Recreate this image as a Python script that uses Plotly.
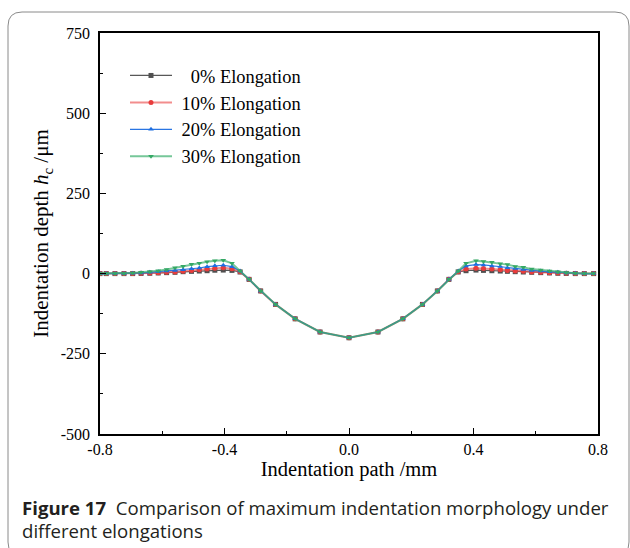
import plotly.graph_objects as go

# ---- data ----
x_path = [-0.8, -0.78, -0.752, -0.723, -0.695, -0.668, -0.640, -0.613, -0.586, -0.559,
          -0.533, -0.506, -0.481, -0.456, -0.431, -0.404, -0.376, -0.35,
          -0.321, -0.284, -0.236, -0.173, -0.093, 0.0, 0.093, 0.173, 0.236, 0.284, 0.321,
          0.351, 0.376, 0.408, 0.432, 0.459, 0.486, 0.509, 0.534, 0.560, 0.587, 0.616,
          0.644, 0.671, 0.698, 0.727, 0.756, 0.786]

core = [-18, -54, -96, -141, -182, -200, -182, -141, -96, -54, -18]

depth_0_left = [0, 0, 0, 0, 0, 0.5, 1, 2, 3, 4, 6, 7, 8, 9, 10.5, 11, 10, 5]
depth_0_right = [5, 9, 11, 10, 9, 8, 7, 6, 5, 4, 3, 2, 1, 0.5, 0, 0, 0]
depth_10_left = [0, 0, 0, 0, 0.5, 1, 2, 3, 4, 5, 7, 10, 12, 14, 16.5, 18, 15, 6]
depth_10_right = [6, 14, 17, 16, 14, 12, 10, 8, 7, 5, 4, 3, 2, 1, 0, 0, 0]
depth_20_left = [0, 0, 0, 0, 1, 2, 4, 6, 8, 10, 12, 15, 17.5, 21.5, 24.5, 26, 21.5, 8]
depth_20_right = [8, 24, 28, 27, 24, 22, 18, 16, 13, 10, 8, 6, 4, 2, 1, 0, 0]
depth_30_left = [0, 0, 0, 0.5, 1.5, 4, 6, 9, 13, 18, 23, 29, 32, 37, 40, 41.5, 32, 8]
depth_30_right = [8, 32, 40, 38, 35, 31, 28, 22.5, 19.6, 14, 11, 8, 5, 3, 1, 0, 0]

depth_0 = depth_0_left + core + depth_0_right
depth_10 = depth_10_left + core + depth_10_right
depth_20 = depth_20_left + core + depth_20_right
depth_30 = depth_30_left + core + depth_30_right

names = ["\u00a0\u00a0\u00a00% Elongation", "\u00a010% Elongation", "\u00a020% Elongation", "\u00a030% Elongation"]
series = [depth_0, depth_10, depth_20, depth_30]

x_tickvals = [-0.8, -0.4, 0.0, 0.4, 0.8]
x_ticktext = ["-0.8", "-0.4", "0.0", "0.4", "0.8"]
y_tickvals = [750, 500, 250, 0, -250, -500]
y_ticktext = ["750", "500", "250", "0", "-250", "-500"]

# ---- styles ----
line_colors = ["rgba(70,70,70,0.9)", "rgba(235,80,80,0.65)", "rgba(30,110,225,0.95)", "rgba(60,175,110,0.7)"]
marker_colors = ["#505050", "#e83c3c", "#1e6ee0", "#35a865"]
symbols = ["square", "circle", "triangle-up", "triangle-down"]
line_widths = [1.2, 2.0, 1.2, 2.0]

fig = go.Figure()
for name, ys, lc, mc, sym, lw in zip(names, series, line_colors, marker_colors, symbols, line_widths):
    fig.add_trace(go.Scatter(
        x=x_path, y=ys, name=name, mode="lines+markers",
        line=dict(color=lc, width=lw),
        marker=dict(symbol=sym, size=5, color=mc, line=dict(width=0)),
    ))

W, H = 630, 548
L, R, T, B = 100, 32, 33, 114
pw, ph = W - L - R, H - T - B


def px(xp):
    return (xp - L) / pw


def py(yp):
    return (H - B - yp) / ph


serif = "Liberation Serif, Times New Roman, serif"

fig.update_layout(
    width=W, height=H,
    margin=dict(l=L, r=R, t=T, b=B, pad=0),
    paper_bgcolor="white", plot_bgcolor="white",
    font=dict(family=serif, color="black"),
    showlegend=True,
    legend=dict(
        x=px(125), y=py(57), xanchor="left", yanchor="top",
        bgcolor="rgba(0,0,0,0)", font=dict(family=serif, size=18.4, color="black"),
        itemwidth=42, tracegroupgap=0,
    ),
    xaxis=dict(
        range=[-0.8, 0.8], tickmode="array", tickvals=x_tickvals, ticktext=x_ticktext,
        ticks="inside", ticklen=6, tickwidth=1.2, tickcolor="black",
        showline=True, linecolor="black", linewidth=1.5, mirror=True,
        showgrid=False, zeroline=False,
        tickfont=dict(family=serif, size=16, color="black"),
        title=dict(text="Indentation path /mm", font=dict(family=serif, size=20.5, color="black"), standoff=4),
        minor=dict(tickmode="linear", tick0=0, dtick=0.2, ticks="inside", ticklen=3, tickwidth=1, tickcolor="black", showgrid=False),
    ),
    yaxis=dict(
        range=[-500, 750], tickmode="array", tickvals=y_tickvals, ticktext=y_ticktext,
        ticks="inside", ticklen=6, tickwidth=1.2, tickcolor="black",
        showline=True, linecolor="black", linewidth=1.5, mirror=True,
        showgrid=False, zeroline=False, ticklabelstandoff=5,
        tickfont=dict(family=serif, size=16, color="black"),
        title=dict(text="Indentation depth <i>h</i><sub>c</sub> /\u03bcm", font=dict(family=serif, size=21, color="black"), standoff=6),
        minor=dict(tickmode="linear", tick0=0, dtick=125, ticks="inside", ticklen=3, tickwidth=1, tickcolor="black", showgrid=False),
    ),
)

# rounded frame around the figure (decoration)
x0, x1, y0, y1, r = 8, 629, 12, 556, 14
path = (f"M {px(x0 + r)},{py(y0)} L {px(x1 - r)},{py(y0)} "
        f"Q {px(x1)},{py(y0)} {px(x1)},{py(y0 + r)} L {px(x1)},{py(y1 - r)} "
        f"Q {px(x1)},{py(y1)} {px(x1 - r)},{py(y1)} L {px(x0 + r)},{py(y1)} "
        f"Q {px(x0)},{py(y1)} {px(x0)},{py(y1 - r)} L {px(x0)},{py(y0 + r)} "
        f"Q {px(x0)},{py(y0)} {px(x0 + r)},{py(y0)} Z")
fig.add_shape(type="path", path=path, xref="paper", yref="paper",
              line=dict(color="#8a8a8a", width=1), fillcolor="rgba(0,0,0,0)", layer="below")

cap_font = dict(family="Open Sans, Noto Sans, sans-serif", size=18.6, color="#231f20")
fig.add_annotation(
    x=px(20), y=py(507), xref="paper", yref="paper", xanchor="left", yanchor="middle",
    text="<b>Figure 17</b>\u00a0\u00a0Comparison of maximum indentation morphology under",
    showarrow=False, font=cap_font, align="left",
)
fig.add_annotation(
    x=px(20), y=py(530), xref="paper", yref="paper", xanchor="left", yanchor="middle",
    text="different elongations", showarrow=False, font=cap_font, align="left",
)

fig.write_html("out.html")
